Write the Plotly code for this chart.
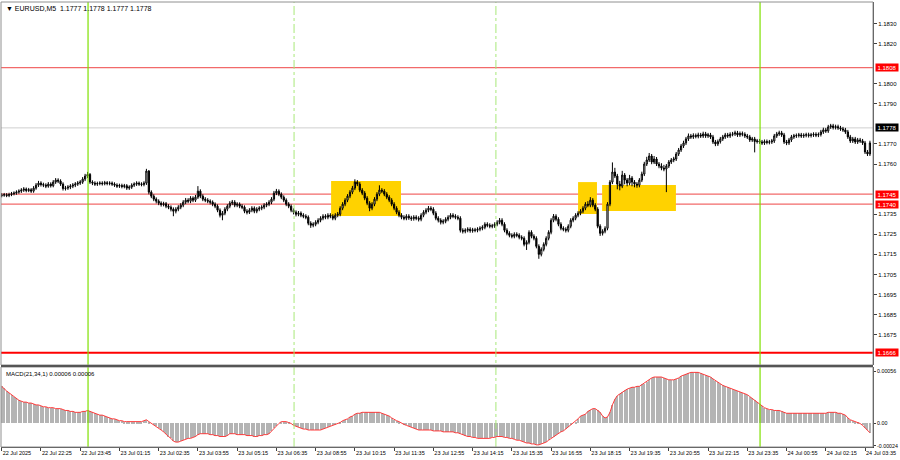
import plotly.graph_objects as go

# ---------------- data (EURUSD M5, prices in 1e-5 above 1.17000) ----------------
BASE = 1.17000
open_first = 442
close_pts = [
    445, 447, 443, 448, 452, 455, 460, 465,
    470, 475, 468, 472, 465, 480, 495, 505, 498,
    495, 490, 500, 492,
    510, 520, 515, 500, 478,
    480, 485, 490, 495, 500, 505, 510,
    525, 540, 548,
    510, 505, 500, 503, 505, 502, 507, 503, 505, 500,
    495, 490, 493, 488, 492, 480,
    485, 495, 500, 505, 500, 498, 505,
    565, 460, 440, 425, 415,
    405, 398, 402, 390, 385, 375, 365,
    375, 385, 395, 410, 420, 415, 430, 420, 435,
    465, 440, 425, 420, 415, 410,
    400, 390, 370, 345, 355,
    375, 390, 405, 410, 395, 400, 390, 385,
    365, 360, 370, 380, 365, 375, 380,
    385, 395, 400, 410, 425, 455, 465, 450,
    435, 420, 400, 390, 370, 360, 350,
    355, 345, 340, 335, 305, 295, 300,
    310, 320, 330, 340, 335, 345, 340, 330, 345, 350,
    380, 400, 420, 440, 460, 480, 510, 500,
    470, 455, 430, 405, 380,
    400, 425, 450, 470, 465,
    450, 435, 420, 400, 380, 360, 345,
    335, 330, 340, 332, 328, 335, 330, 325,
    345, 360, 370, 380, 375, 355, 330, 320,
    310, 315, 325, 335, 345, 340, 335, 330,
    270, 265, 270, 275, 268, 272, 270, 275, 280, 285,
    300, 295, 290, 292, 300, 310, 320, 300,
    270, 255, 245, 240, 250, 245, 235, 230,
    200, 210, 260, 240, 230, 190, 150,
    175, 200, 230, 260, 320, 340, 325,
    300, 280, 275, 270,
    290, 320, 330, 345, 355, 365, 380,
    400, 395, 420, 395, 375, 290, 255,
    265, 280, 400, 510, 560, 540,
    500, 490, 545, 520, 505, 530, 510, 500, 495,
    520, 550, 600, 620, 640, 610, 625,
    600, 590, 580, 575, 590, 610, 620, 625,
    650, 670, 690, 705, 725, 740, 735, 742, 738, 745, 740,
    750, 740, 745, 735, 710, 700, 712,
    725, 735, 745, 740, 748, 750, 755, 745, 752, 748, 740, 735,
    720, 725, 712, 715, 710, 705, 712, 708, 710, 715,
    740, 750, 755, 745, 710, 705, 720,
    735, 740, 742, 745, 740, 743, 746, 742, 745, 748, 744, 747,
    760, 770, 765, 785, 790, 782, 786, 780, 775, 770, 760,
    735, 715, 725, 710, 720, 715, 705, 660, 650, 705,
]
high_pts = [
    455, 456, 455, 457, 461, 464, 469, 474,
    480, 485, 483, 481, 480, 490, 505, 516, 514,
    507, 504, 510, 509,
    520, 530, 529, 524, 509,
    491, 495, 500, 505, 510, 515, 520,
    535, 551, 561,
    555, 519, 514, 512, 514, 514, 516, 515, 514, 513,
    509, 504, 502, 502, 501, 500,
    494, 504, 509, 514, 513, 509, 514,
    576, 570, 469, 449, 434,
    424, 414, 412, 411, 400, 394, 384,
    385, 395, 405, 420, 431, 430, 440, 439, 446,
    490, 474, 449, 435, 430, 424,
    419, 409, 399, 379, 366,
    385, 400, 415, 421, 420, 410, 409, 400,
    394, 375, 380, 390, 389, 385, 390,
    395, 405, 410, 420, 435, 466, 476, 474,
    459, 444, 429, 410, 399, 379, 369,
    366, 364, 355, 350, 344, 315, 310,
    320, 330, 340, 350, 350, 355, 355, 350, 355, 361,
    390, 410, 430, 450, 470, 491, 524, 520,
    510, 480, 465, 440, 415,
    410, 435, 460, 494, 480,
    475, 460, 445, 430, 410, 390, 370,
    355, 345, 350, 350, 342, 345, 345, 340,
    355, 370, 380, 391, 390, 385, 365, 340,
    330, 325, 335, 345, 355, 355, 350, 345,
    340, 280, 280, 285, 285, 282, 282, 285, 290, 295,
    310, 310, 305, 302, 310, 320, 331, 330,
    310, 280, 265, 255, 260, 260, 255, 245,
    240, 220, 270, 270, 250, 240, 200,
    185, 210, 240, 270, 330, 351, 350,
    335, 310, 290, 285,
    300, 330, 340, 355, 365, 375, 390,
    410, 415, 435, 430, 405, 385, 300,
    275, 290, 410, 520, 608, 581,
    551, 516, 566, 555, 530, 546, 540, 520, 510,
    530, 562, 611, 636, 655, 650, 640,
    635, 610, 604, 596, 600, 620, 630, 636,
    660, 680, 700, 716, 735, 752, 750, 753, 752, 756, 755,
    761, 760, 755, 755, 745, 720, 722,
    735, 745, 755, 755, 758, 760, 766, 765, 762, 762, 758, 750,
    745, 735, 735, 725, 725, 720, 722, 722, 720, 725,
    750, 760, 766, 765, 755, 720, 730,
    745, 750, 752, 755, 755, 753, 756, 756, 755, 758, 758, 757,
    770, 781, 780, 795, 800, 800, 796, 796, 790, 785, 780,
    770, 745, 735, 735, 730, 730, 725, 715, 670, 716,
]
low_pts = [
    434, 437, 435, 435, 440, 444, 447, 452,
    456, 461, 459, 460, 456, 457, 472, 486, 488,
    485, 480, 482, 483,
    484, 501, 505, 491, 468,
    468, 471, 475, 480, 485, 491, 496,
    501, 515, 530,
    501, 495, 491, 491, 494, 493, 494, 494, 494, 491,
    486, 481, 481, 479, 479, 471,
    471, 476, 486, 491, 491, 489, 489,
    496, 449, 430, 415, 404,
    395, 388, 389, 380, 375, 364, 340,
    354, 365, 375, 385, 400, 405, 405, 410, 411,
    426, 430, 415, 410, 405, 399,
    390, 380, 360, 334, 320,
    345, 365, 380, 395, 385, 385, 380, 375,
    355, 349, 351, 360, 355, 355, 365,
    370, 375, 385, 390, 400, 415, 445, 440,
    425, 410, 390, 380, 360, 349, 339,
    340, 335, 330, 325, 295, 282, 285,
    290, 300, 310, 320, 325, 325, 330, 320, 320, 335,
    340, 370, 390, 410, 430, 450, 470, 490,
    460, 445, 420, 395, 365,
    370, 390, 415, 440, 455,
    440, 425, 410, 390, 370, 350, 335,
    325, 320, 320, 322, 317, 318, 320, 314,
    315, 335, 350, 360, 365, 345, 320, 309,
    299, 300, 305, 315, 325, 330, 325, 320,
    259, 254, 255, 260, 258, 258, 260, 260, 265, 270,
    275, 285, 280, 280, 282, 290, 300, 290,
    260, 245, 235, 230, 230, 235, 225, 220,
    190, 172, 200, 230, 220, 180, 128,
    140, 165, 190, 220, 250, 310, 315,
    290, 270, 265, 259,
    260, 280, 310, 320, 335, 345, 355,
    370, 385, 385, 385, 365, 280, 242,
    244, 255, 270, 390, 500, 530,
    474, 469, 480, 499, 489, 494, 489, 484, 482,
    484, 510, 540, 590, 610, 599, 600,
    590, 579, 569, 564, 460, 580, 600, 609,
    615, 640, 660, 680, 695, 715, 725, 725, 728, 728, 730,
    730, 730, 730, 725, 700, 689, 690,
    702, 715, 725, 730, 730, 738, 740, 735, 735, 738, 730, 725,
    710, 710, 658, 702, 700, 695, 695, 698, 698, 700,
    705, 730, 740, 735, 700, 694, 695,
    710, 725, 730, 732, 730, 730, 733, 732, 732, 735, 734, 734,
    737, 750, 755, 755, 775, 772, 772, 770, 765, 760, 750,
    725, 705, 705, 700, 700, 705, 695, 650, 640, 640,
]
# MACD(21,34,1) main value, in 1e-5
macd_e5 = [
    40, 38, 35, 33, 31, 29, 27, 25, 24, 23,
    23, 22, 22, 21, 20, 20, 19, 18, 18, 17,
    17, 17, 16, 16, 16, 15, 14, 14, 13, 13,
    12, 12, 12, 13, 13, 14, 13, 12, 11, 10,
    9, 9, 8, 7, 6, 5, 5, 4, 3, 3,
    2, 2, 2, 2, 2, 2, 2, 2, 3, 4,
    2, 0, -1, -3, -5, -7, -9, -11, -14, -16,
    -19, -20, -20, -19, -18, -17, -16, -16, -15, -14,
    -12, -11, -11, -11, -11, -12, -12, -13, -13, -14,
    -14, -14, -13, -11, -11, -11, -12, -12, -12, -12,
    -13, -13, -13, -14, -14, -13, -13, -12, -12, -11,
    -8, -5, -3, 0, 2, 2, 2, 1, 0, -2,
    -3, -4, -5, -6, -6, -7, -7, -7, -7, -7,
    -7, -6, -5, -4, -3, -2, -1, 0, 1, 3,
    4, 5, 7, 8, 10, 11, 11, 12, 12, 12,
    12, 12, 12, 12, 12, 11, 10, 9, 8, 6,
    4, 3, 2, 0, -1, -2, -3, -4, -5, -6,
    -7, -7, -7, -7, -7, -7, -8, -8, -8, -8,
    -9, -9, -9, -9, -9, -10, -10, -11, -12, -13,
    -14, -14, -15, -15, -16, -16, -16, -16, -16, -16,
    -15, -15, -14, -14, -14, -15, -15, -16, -16, -17,
    -18, -18, -19, -20, -21, -21, -22, -22, -23, -23,
    -22, -21, -20, -18, -16, -14, -12, -11, -9, -8,
    -6, -4, -2, 0, 2, 5, 8, 9, 10, 13,
    15, 16, 16, 14, 12, 8, 6, 7, 12, 20,
    26, 30, 32, 34, 36, 37, 38, 39, 39, 40,
    40, 42, 43, 45, 47, 49, 50, 50, 50, 50,
    49, 48, 47, 47, 47, 48, 49, 51, 52, 53,
    54, 55, 55, 55, 55, 54, 53, 52, 51, 50,
    48, 46, 45, 43, 41, 40, 39, 38, 37, 36,
    35, 34, 33, 32, 31, 29, 27, 25, 23, 21,
    19, 17, 16, 15, 15, 14, 14, 14, 13, 12,
    11, 11, 11, 11, 11, 11, 11, 11, 11, 11,
    11, 11, 11, 11, 11, 11, 11, 12, 12, 12,
    12, 11, 11, 10, 9, 6, 4, 3, 2, 1,
    0, -2, -5, -7, -10,
]

time_tick_bars = [0, 16, 32, 48, 64, 80, 96, 112, 128, 144, 160, 176,
                  192, 208, 224, 240, 256, 272, 288, 304, 320, 336, 352]
time_tick_labels = ["22 Jul 2025", "22 Jul 22:25", "22 Jul 23:45", "23 Jul 01:15",
                    "23 Jul 02:35", "23 Jul 03:55", "23 Jul 05:15", "23 Jul 06:35",
                    "23 Jul 08:55", "23 Jul 10:15", "23 Jul 11:35", "23 Jul 12:55",
                    "23 Jul 14:15", "23 Jul 15:35", "23 Jul 16:55", "23 Jul 18:15",
                    "23 Jul 19:35", "23 Jul 20:55", "23 Jul 22:15", "23 Jul 23:35",
                    "24 Jul 00:55", "24 Jul 02:15", "24 Jul 03:35"]
price_ticks = [1.1830, 1.1820, 1.1800, 1.1790, 1.1770, 1.1760,
               1.1735, 1.1725, 1.1715, 1.1705, 1.1695, 1.1685, 1.1675]
macd_ticks = [0.00056, 0.0, -0.00024]
macd_tick_text = ["0.00056", "0.00", "-0.00024"]
level_prices = [1.1808, 1.1745, 1.1740, 1.1666]
current_price = 1.1778
day_breaks = [35.2, 309.2]          # bar positions of solid green separators
session_marks = [119.2, 201.5]      # bar positions of dashed green lines
zones = [(134.3, 162.8, 1.17341, 1.17515),
         (235.0, 242.7, 1.17351, 1.17510),
         (244.8, 274.9, 1.17366, 1.17495)]
header_text = "▼ EURUSD,M5  1.1777 1.1778 1.1777 1.1778"
macd_title = "MACD(21,34,1) 0.00006 0.00006"

# ---------------- build ----------------
n = len(close_pts)
idx = list(range(n))
closes = [BASE + v * 1e-5 for v in close_pts]
highs = [BASE + v * 1e-5 for v in high_pts]
lows = [BASE + v * 1e-5 for v in low_pts]
opens = [BASE + open_first * 1e-5] + closes[:-1]   # M5 bars open at prior close
macd = [v * 1e-5 for v in macd_e5]

FONT = "Liberation Sans, Arial, sans-serif"
W, H = 900, 460
ML, MR, MT, MB = 1, 27, 2, 13
PH = H - MT - MB  # 445
main_bottom = (H - MB - 365) / PH
macd_top = (H - MB - 367) / PH

fig = go.Figure()
fig.add_trace(go.Candlestick(
    x=idx, open=opens, high=highs, low=lows, close=closes,
    xaxis="x2", yaxis="y",
    increasing=dict(line=dict(color="#000000", width=1), fillcolor="#ffffff"),
    decreasing=dict(line=dict(color="#000000", width=1), fillcolor="#000000"),
    whiskerwidth=0, hoverinfo="skip", showlegend=False,
))
fig.add_trace(go.Bar(
    x=idx, y=macd, xaxis="x", yaxis="y2", width=0.42,
    marker=dict(color="#b4b4b4", line=dict(width=0)),
    hoverinfo="skip", showlegend=False,
))
fig.add_trace(go.Scatter(
    x=idx, y=macd, xaxis="x", yaxis="y2", mode="lines",
    line=dict(color="#ff3b3b", width=1), hoverinfo="skip", showlegend=False,
))

shapes = []
for x0, x1, y0, y1 in zones:
    shapes.append(dict(type="rect", xref="x2", yref="y", x0=x0, x1=x1, y0=y0, y1=y1,
                       fillcolor="#ffd200", line=dict(width=0), layer="below"))
shapes.append(dict(type="line", xref="paper", yref="y", x0=0, x1=1,
                   y0=current_price, y1=current_price,
                   line=dict(color="#cfcfcf", width=1), layer="below"))
for p in level_prices:
    strong = p == level_prices[-1]
    shapes.append(dict(type="line", xref="paper", yref="y", x0=0, x1=1, y0=p, y1=p,
                       line=dict(color="#ff0000" if strong else "#f26a6a",
                                 width=2 if strong else 1.3), layer="below"))
for b in day_breaks:
    shapes.append(dict(type="line", xref="x", yref="paper", x0=b, x1=b, y0=0, y1=1,
                       line=dict(color="#7fe000", width=1.2)))
for b in session_marks:
    shapes.append(dict(type="line", xref="x", yref="paper", x0=b, x1=b, y0=0, y1=1,
                       line=dict(color="#a8e878", width=1, dash="dashdot")))
# panel frames
shapes.append(dict(type="rect", xref="paper", yref="paper", x0=0, x1=1, y0=main_bottom, y1=1,
                   line=dict(color="#909090", width=1)))
shapes.append(dict(type="rect", xref="paper", yref="paper", x0=0, x1=1, y0=0, y1=macd_top,
                   line=dict(color="#909090", width=1)))
shapes.append(dict(type="line", xref="paper", yref="paper", x0=0, x1=1,
                   y0=(main_bottom + macd_top) / 2, y1=(main_bottom + macd_top) / 2,
                   line=dict(color="#555555", width=2)))

annotations = [
    dict(xref="paper", yref="paper", x=0.004, y=1, xanchor="left", yanchor="top",
         yshift=-1, text=header_text, showarrow=False,
         font=dict(family=FONT, size=7, color="#000000")),
    dict(xref="paper", yref="paper", x=0.003, y=macd_top, xanchor="left", yanchor="top",
         yshift=-2, text=macd_title, showarrow=False,
         font=dict(family=FONT, size=6, color="#000000")),
]
for p in level_prices:
    annotations.append(dict(xref="paper", yref="y", x=1, y=p, xanchor="left", yanchor="middle",
                            xshift=2, text=f"{p:.4f}", showarrow=False, bgcolor="#ff0000",
                            width=22, height=7, borderpad=0,
                            font=dict(family=FONT, size=6, color="#ffffff")))
annotations.append(dict(xref="paper", yref="y", x=1, y=current_price, xanchor="left",
                        yanchor="middle", xshift=2, text=f"{current_price:.4f}",
                        showarrow=False, bgcolor="#000000", width=22, height=7, borderpad=0,
                        font=dict(family=FONT, size=6, color="#ffffff")))

fig.update_layout(
    width=W, height=H, margin=dict(l=ML, r=MR, t=MT, b=MB, autoexpand=False),
    paper_bgcolor="#ffffff", plot_bgcolor="#ffffff", bargap=0,
    font=dict(family=FONT, size=6, color="#000000"),
    xaxis=dict(domain=[0, 1], anchor="y2", range=[-0.29, 355.25], automargin=False,
               tickvals=time_tick_bars, ticktext=time_tick_labels,
               ticks="outside", ticklen=3, tickcolor="#404040",
               ticklabelposition="outside right",
               tickfont=dict(family=FONT, size=5.5, color="#000000"),
               showline=True, linecolor="#404040", linewidth=1,
               showgrid=False, zeroline=False, rangeslider=dict(visible=False)),
    xaxis2=dict(domain=[0, 1], anchor="y", matches="x", showticklabels=False,
                ticks="", showline=False, showgrid=False, zeroline=False,
                automargin=False, rangeslider=dict(visible=False)),
    yaxis=dict(domain=[main_bottom, 1], anchor="x2", side="right", automargin=False,
               range=[1.16599, 1.18407], tickvals=price_ticks,
               ticktext=[f"{v:.4f}" for v in price_ticks],
               ticks="outside", ticklen=3, tickcolor="#404040",
               tickfont=dict(family=FONT, size=6, color="#000000"),
               showline=True, linecolor="#404040", linewidth=1,
               showgrid=False, zeroline=False),
    yaxis2=dict(domain=[0, macd_top], anchor="x", side="right", automargin=False,
                range=[-0.000253, 0.000608], tickvals=macd_ticks, ticktext=macd_tick_text,
                ticks="outside", ticklen=2, tickcolor="#404040",
                tickfont=dict(family=FONT, size=5.3, color="#000000"),
                showline=True, linecolor="#404040", linewidth=1,
                showgrid=False, zeroline=False),
    shapes=shapes, annotations=annotations,
)

fig.write_html("out.html", config={"displayModeBar": False},
               post_script="document.body.style.margin='0';document.body.style.overflow='hidden';")
